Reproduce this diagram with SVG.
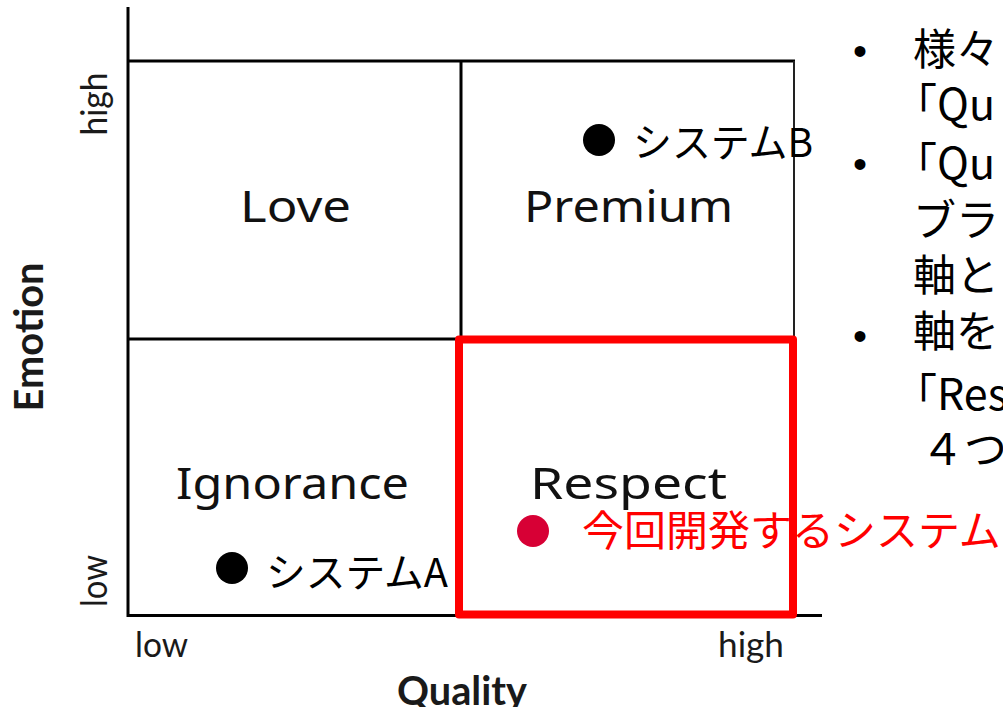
<svg xmlns="http://www.w3.org/2000/svg" width="1003" height="707" viewBox="0 0 1003 707">
<style>
  .ax { font-family: Lato, "Open Sans", sans-serif; fill: #1a1a1a; }
  .q { font-family: "Noto Sans", "DejaVu Sans", sans-serif; font-size: 44px; fill: #111; }
  .jp { font-family: "Noto Sans CJK JP", "Noto Sans", sans-serif; fill: #000; }
  .bul { font-family: "Liberation Sans", sans-serif; font-size: 40px; fill: #000; }
  .ln { stroke: #000; stroke-width: 3; fill: none; }
</style>
<rect width="1003" height="707" fill="#fff"/>
<g id="grid">
  <line class="ln" x1="128" y1="7" x2="128" y2="617"/>
  <line class="ln" x1="127" y1="615.5" x2="822" y2="615.5"/>
  <line class="ln" x1="128" y1="61" x2="795" y2="61"/>
  <line class="ln" x1="461" y1="61" x2="461" y2="340"/>
  <line class="ln" x1="128" y1="339" x2="461" y2="339"/>
  <line x1="794" y1="61" x2="794" y2="340" stroke="#222" stroke-width="2"/>
</g>
<g id="axis-labels">
  <text class="ax" font-size="36" transform="translate(107,104) rotate(-90)" text-anchor="middle" textLength="63" lengthAdjust="spacingAndGlyphs">high</text>
  <text class="ax" font-size="36" transform="translate(107,581) rotate(-90)" text-anchor="middle" textLength="52" lengthAdjust="spacingAndGlyphs">low</text>
  <text class="ax" font-size="40" font-weight="bold" transform="translate(43,337) rotate(-90)" text-anchor="middle" textLength="149" lengthAdjust="spacingAndGlyphs">Emotion</text>
  <text class="ax" font-size="34" x="135" y="657" textLength="53" lengthAdjust="spacingAndGlyphs">low</text>
  <text class="ax" font-size="34" x="718" y="657" textLength="66" lengthAdjust="spacingAndGlyphs">high</text>
  <text class="ax" font-size="40" font-weight="bold" x="397" y="705" textLength="130" lengthAdjust="spacingAndGlyphs">Quality</text>
</g>
<g id="quadrant-love"><text class="q" x="240" y="222" textLength="111" lengthAdjust="spacingAndGlyphs">Love</text></g>
<g id="quadrant-premium"><text class="q" x="524" y="222" textLength="209" lengthAdjust="spacingAndGlyphs">Premium</text></g>
<g id="quadrant-ignorance"><text class="q" x="176" y="499" textLength="233" lengthAdjust="spacingAndGlyphs">Ignorance</text></g>
<g id="quadrant-respect"><text class="q" x="530" y="499" textLength="197" lengthAdjust="spacingAndGlyphs">Respect</text></g>
<g id="highlight">
  <rect x="459" y="339.5" width="334" height="275" fill="none" stroke="#ff0000" stroke-width="8" stroke-linejoin="round"/>
</g>
<g id="system-b">
  <circle cx="599" cy="140" r="16" fill="#000"/>
  <text class="jp" font-size="40" x="633" y="157" textLength="180" lengthAdjust="spacingAndGlyphs">システムB</text>
</g>
<g id="system-a">
  <circle cx="232" cy="568" r="16" fill="#000"/>
  <text class="jp" font-size="40" x="266" y="587" textLength="182" lengthAdjust="spacingAndGlyphs">システムA</text>
</g>
<g id="new-system">
  <circle cx="533" cy="531" r="16" fill="#d70035"/>
  <text class="jp" font-size="42" x="582" y="546" fill="#ff0000" style="fill:#ff0000">今回開発するシステム</text>
</g>
<g id="notes">
  <text class="bul" x="860" y="65" text-anchor="middle">•</text>
  <text class="bul" x="860" y="178" text-anchor="middle">•</text>
  <text class="bul" x="860" y="350" text-anchor="middle">•</text>
  <text class="jp" font-size="43" x="913" y="65">様々</text>
  <text class="jp" font-size="43" x="894" y="120">「Qu</text>
  <text class="jp" font-size="43" x="894" y="179">「Qu</text>
  <text class="jp" font-size="43" x="913" y="236">ブラン</text>
  <text class="jp" font-size="43" x="913" y="291">軸とし</text>
  <text class="jp" font-size="43" x="913" y="347">軸を</text>
  <text class="jp" font-size="43" x="894" y="410">「Res</text>
  <text class="jp" font-size="43" x="921" y="465">４つの</text>
</g>
</svg>
